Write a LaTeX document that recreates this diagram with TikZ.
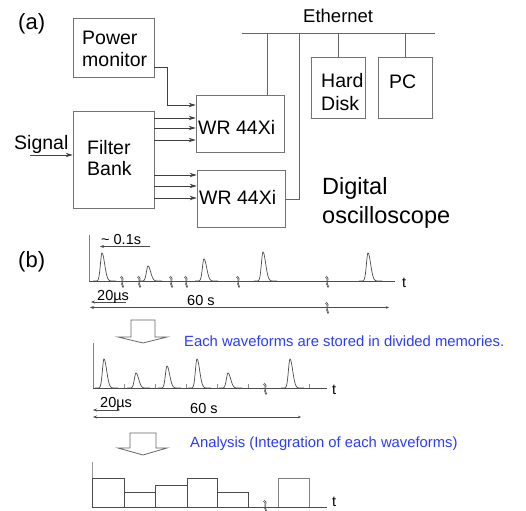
\documentclass[tikz,border=0pt]{standalone}
\usepackage{fontspec}
\setmainfont{Liberation Sans}
\usetikzlibrary{arrows.meta}
\definecolor{bl}{RGB}{45,60,245}
\newcommand\wpulse[3]{\draw[wave] plot[domain=-9:14,samples=60,smooth] ({#1+\x},{#2-(#2-#3)*exp(-(\x)^2/((\x<0)?5:14))});}
\newcommand\wbreak[2]{\draw[wave,line width=0.6pt] (#1-1.8,#2-5) .. controls (#1+2.8,#2-3) and (#1-2.8,#2+1) .. (#1+1.2,#2+6);
\draw[wave,line width=0.6pt] (#1-0.6,#2-6) .. controls (#1+3.6,#2-3) and (#1-1.8,#2+1) .. (#1+1.8,#2+5);}
\begin{document}
\begin{tikzpicture}[x=1pt,y=-1pt,
 box/.style={draw=black!55, line width=0.8pt, inner sep=0pt},
 txt/.style={inner sep=0pt, anchor=base west, font=\fontsize{19.5}{22}\selectfont},
 ln/.style={draw=black!60, line width=0.8pt},
 arr/.style={draw=black!75, line width=0.8pt, -{Stealth[length=7pt,width=4.5pt]}},
 wave/.style={draw=black!70, line width=0.7pt},
 sm/.style={inner sep=0pt, anchor=base west, font=\fontsize{14.5}{16}\selectfont},
 note/.style={inner sep=0pt, anchor=base west, text=bl, font=\fontsize{14.8}{17}\selectfont},
 dim/.style={draw=black!70, line width=0.6pt},
 tipl/.style={{Stealth[length=4pt,width=3pt]}-},
 tipb/.style={{Stealth[length=4pt,width=3pt]}-{Stealth[length=3pt,width=2.5pt]}},
 hollow/.style={draw=black!60, line width=0.8pt, fill=white}]
\useasboundingbox (0,0) rectangle (526,510);
\fill[white] (0,0) rectangle (526,510);
% ---------- (a) ----------
\node[txt, font=\fontsize{22}{24}\selectfont] (la) at (18,30) {(a)};
\node[box, minimum width=81pt, minimum height=59pt] (pm) at (113.5,47.5) {};
\node[box, minimum width=81pt, minimum height=97pt] (fb) at (113.5,159.5) {};
\node[box, minimum width=88pt, minimum height=57pt] (wr1) at (240,123.5) {};
\node[box, minimum width=88pt, minimum height=57pt] (wr2) at (241,198.5) {};
\node[box, minimum width=54pt, minimum height=61pt] (hd) at (338,87.5) {};
\node[box, minimum width=54pt, minimum height=61pt] (pc) at (405,87.5) {};
\node[txt] (t1) at (82,45) {Power};
\node[txt] (t2) at (82,67) {monitor};
\node[txt] (t3) at (87,155) {Filter};
\node[txt] (t4) at (87,176) {Bank};
\node[txt] (t5) at (14,150) {Signal};
\node[txt] (t6) at (198,135) {WR 44Xi};
\node[txt] (t7) at (199,205) {WR 44Xi};
\node[txt] (t8) at (321,88) {Hard};
\node[txt] (t9) at (321,111) {Disk};
\node[txt] (t10) at (389,89) {PC};
\node[txt, font=\fontsize{18.5}{20}\selectfont] (t11) at (303,23) {Ethernet};
\node[txt, font=\fontsize{23.5}{26}\selectfont] (t12) at (322,195) {Digital};
\node[txt, font=\fontsize{23.5}{26}\selectfont] (t13) at (322,223) {oscilloscope};
% connectors
\coordinate (sig) at (30,155);
\draw[arr] (sig) -- (sig -| fb.west);
\draw[arr] ([yshift=-19.5pt]pm.east) -- ++(13,0) |- ([yshift=18.5pt]wr1.west);
\foreach \yy in {118,128,140} \draw[arr] (fb.east |- 0,\yy) -- (wr1.west |- 0,\yy);
\foreach \yy in {175,186,198} \draw[arr] (fb.east |- 0,\yy) -- (wr2.west |- 0,\yy);
\coordinate (eL) at (242,33);
\coordinate (eR) at (435,33);
\draw[ln] (eL) -- (eR);
\draw[ln] (eL -| 267,0) -- (wr1.north -| 267,0);
\draw[ln] (wr2.east |- 0,199) -| (eL -| 299,0);
\draw[ln] (hd.north |- eL) -- (hd.north);
\draw[ln] (pc.north |- eL) -- (pc.north);
% ---------- (b) ----------
\node[txt, font=\fontsize{22}{24}\selectfont] (lb) at (18,267) {(b)};
% waveform 1
\draw[wave, draw=black!50] (89,235) -- (89,281);
\draw[wave] (89,281) -- (395,281);
\node[sm] (tt1) at (402,287) {t};
\wpulse{102}{281}{253}
\wpulse{148}{281}{266}
\wpulse{204}{281}{259}
\wpulse{263}{281}{252}
\wpulse{368}{281}{253}
\foreach \xx in {122,139,171,186,238,327} {\wbreak{\xx}{282}}
\draw[dim, tipl] (100,246.5) -- (150,246.5);
\node[sm] (s1) at (101,244) {\textasciitilde\ 0.1s};
\draw[dim, tipl] (91,302) -- (126,302);
\node[sm] (s2) at (97,300) {20µs};
\draw[dim, tipb] (90,307.5) -- (389,307.5);
\node[sm] (s3) at (187,305) {60 s};
\wbreak{327}{308}
% hollow arrow 1
\draw[hollow] (131,320) -- (155,320) -- (155,337) -- (167,337) -- (143,343) -- (118,337) -- (131,337) -- cycle;
\node[note] (n1) at (184,346) {Each waveforms are stored in divided memories.};
% waveform 2
\draw[wave, draw=black!50] (93,343) -- (93,388);
\draw[wave] (93,388) -- (327,388);
\node[sm] (tt2) at (332,394) {t};
\wpulse{104}{388}{359}
\wpulse{136}{388}{373}
\wpulse{167}{388}{366}
\wpulse{197}{388}{359}
\wpulse{228}{388}{373}
\wpulse{290}{388}{359}
\foreach \xx in {124,155,186,217,248,309} {\draw[wave, draw=black!45, line width=0.5pt] (\xx,388) -- (\xx,384);}
\wbreak{265}{389}
\draw[dim, tipb] (93,410) -- (120,410);
\node[sm] (s4) at (100,407) {20µs};
\draw[dim, tipb] (93,417) -- (301,417);
\node[sm] (s5) at (190,413) {60 s};
% hollow arrow 2
\draw[hollow] (130,433) -- (156,433) -- (156,448) -- (167,448) -- (143,455) -- (118,448) -- (130,448) -- cycle;
\node[note] (n2) at (190,447) {Analysis (Integration of each waveforms)};
% waveform 3
\draw[wave, draw=black!40] (92,462) -- (92,507);
\draw[wave] (92,507) rectangle (124,478);
\draw[wave] (124,507) rectangle (155,492);
\draw[wave] (155,507) rectangle (187,485);
\draw[wave] (187,507) rectangle (217,478);
\draw[wave] (217,507) rectangle (248,492);
\draw[wave, draw=black!50] (278,507) rectangle (309,478);
\draw[wave] (92,507) -- (327,507);
\wbreak{265}{506}
\node[sm] (tt3) at (332,506) {t};
\end{tikzpicture}
\end{document}
